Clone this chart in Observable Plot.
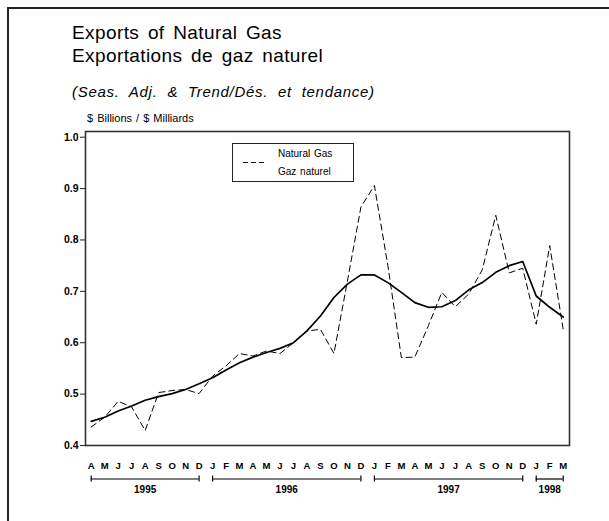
<!DOCTYPE html>
<html>
<head>
<meta charset="utf-8">
<script src="https://cdn.jsdelivr.net/npm/d3@7"></script>
<script src="https://cdn.jsdelivr.net/npm/@observablehq/plot@0.6"></script>
<style>
  body { margin: 0; background: #fff; font-family: "Liberation Sans", Arial, Helvetica, sans-serif; }
  #wrap { position: relative; width: 609px; height: 521px; overflow: hidden; background: #fff; }
  #border { position: absolute; left: 7px; top: 7px; width: 700px; height: 700px;
            border-left: 2px solid #222; border-top: 2px solid #222; }
  #chart { position: absolute; left: 0; top: 0; }
  #chart svg { display: block; }
  .t { position: absolute; white-space: nowrap; color: #000; line-height: 1; }
  #t1, #t2 { font-size: 19px; word-spacing: 3px; letter-spacing: 0.4px; }
  #t3 { font-size: 15px; font-style: italic; word-spacing: 5px; letter-spacing: 0.7px; }
  #t4 { font-size: 11px; word-spacing: 1px; }
  #legend { position: absolute; left: 232px; top: 143px; width: 120px; height: 37px;
            border: 1px solid #222; background: #fff; }
  #legend svg { position: absolute; left: 0; top: 0; }
  .lg { position: absolute; left: 45px; font-size: 10px; line-height: 1; white-space: nowrap; word-spacing: 1px; }
</style>
</head>
<body>
<div id="wrap">
  <div id="border"></div>
  <div id="chart"></div>
  <div class="t" id="t1" style="left:72px; top:23.2px;">Exports of Natural Gas</div>
  <div class="t" id="t2" style="left:72px; top:45.6px;">Exportations de gaz naturel</div>
  <div class="t" id="t3" style="left:72px; top:84.3px;">(Seas. Adj. &amp; Trend/Dés. et tendance)</div>
  <div class="t" id="t4" style="left:87px; top:112.5px;">$ Billions / $ Milliards</div>
  <div id="legend">
    <svg width="120" height="37"><line x1="10" x2="33" y1="18.5" y2="18.5" stroke="#000" stroke-width="1" stroke-dasharray="5,3"/></svg>
    <div class="lg" style="top:5px;">Natural Gas</div>
    <div class="lg" style="top:22.5px;">Gaz naturel</div>
  </div>
</div>
<script>
// Month labels, Apr 1995 .. Mar 1998
const months = ["A","M","J","J","A","S","O","N","D",
                "J","F","M","A","M","J","J","A","S","O","N","D",
                "J","F","M","A","M","J","J","A","S","O","N","D",
                "J","F","M"];
// Natural gas exports, seasonally adjusted ($ billions)
const gas = [0.436, 0.455, 0.486, 0.475, 0.429, 0.503, 0.507, 0.509, 0.501,
             0.535, 0.555, 0.579, 0.574, 0.584, 0.579, 0.600, 0.623, 0.626, 0.579, 0.720, 0.864,
             0.906, 0.750, 0.571, 0.572, 0.633, 0.698, 0.670, 0.695, 0.742, 0.848, 0.736, 0.745,
             0.636, 0.789, 0.626];
// Trend ($ billions)
const trend = [0.447, 0.455, 0.467, 0.477, 0.488, 0.495, 0.501, 0.509, 0.520,
               0.532, 0.547, 0.561, 0.572, 0.581, 0.589, 0.600, 0.623, 0.652, 0.688, 0.714, 0.732,
               0.732, 0.717, 0.698, 0.678, 0.669, 0.670, 0.682, 0.703, 0.717, 0.737, 0.750, 0.758,
               0.691, 0.669, 0.650];
// Year groups (first and last month index of each)
const years = ["1995", "1996", "1997", "1998"];
const yearStart = [0, 9, 21, 33];
const yearEnd = [8, 20, 32, 35];
const yTicks = [0.4, 0.5, 0.6, 0.7, 0.8, 0.9, 1.0];

const idx = d3.range(months.length);
const yi = d3.range(years.length);
const ends = yearStart.concat(yearEnd);
const yBase = 0.4;

const chart = Plot.plot({
  width: 609,
  height: 521,
  marginLeft: 85,
  marginRight: 40,
  marginTop: 131,
  marginBottom: 76,
  style: { fontFamily: "'Liberation Sans', Arial, sans-serif", background: "transparent", color: "#000" },
  x: { domain: [0, months.length - 1], range: [90.7, 562.7] },
  y: { domain: [0.4, 1.0], range: [445, 136.7] },
  marks: [
    Plot.frame({ stroke: "#333", strokeWidth: 1.6 }),
    Plot.axisY({ ticks: yTicks, tickFormat: d3.format(".1f"), tickSize: 5, tickPadding: 2,
                 fontSize: 10.5, fontWeight: "bold", label: null, stroke: "#222" }),
    Plot.axisX({ ticks: idx, tickFormat: i => months[i], tickSize: 0, tickPadding: 16.5,
                 fontSize: 9.5, fontWeight: "bold", label: null }),
    Plot.line(idx, { x: d => d, y: i => gas[i], stroke: "#000", strokeWidth: 1, strokeDasharray: "6,4" }),
    Plot.line(idx, { x: d => d, y: i => trend[i], stroke: "#000", strokeWidth: 1.7 }),
    Plot.ruleY(yi, { x1: i => yearStart[i], x2: i => yearEnd[i], y: () => yBase, dy: 33.5, stroke: "#000", strokeWidth: 1.2 }),
    Plot.ruleX(ends, { x: d => d, y1: () => yBase, y2: () => yBase, insetTop: -3, insetBottom: -3, dy: 33.5, stroke: "#000", strokeWidth: 1.2 }),
    Plot.text(yi, { x: i => (yearStart[i] + yearEnd[i]) / 2, y: () => yBase, dy: 44,
                    text: i => years[i], fontWeight: "bold", fontSize: 10, fill: "#000" })
  ]
});
document.getElementById("chart").appendChild(chart);
</script>
</body>
</html>
